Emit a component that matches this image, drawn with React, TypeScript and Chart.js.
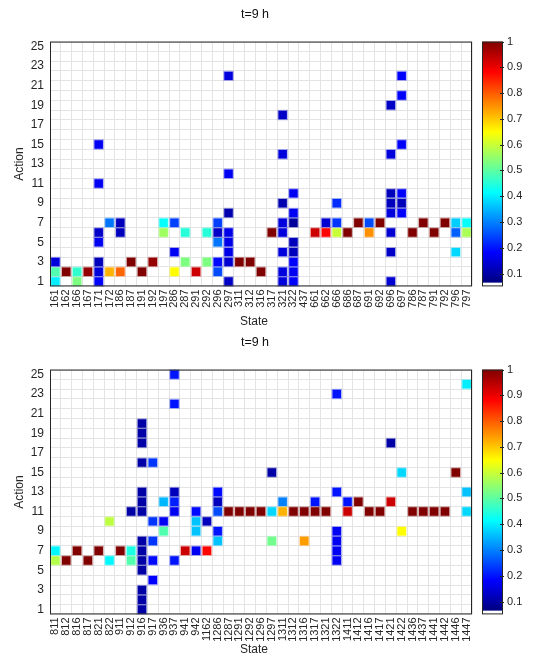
import React, { useEffect, useRef } from 'react';
import { Chart, registerables } from 'chart.js';

Chart.register(...registerables);

const FONT = "'Liberation Sans', Arial, Helvetica, sans-serif";
const TEXT = '#262626';

const chartTitle = 't=9 h';
const xAxisTitle = 'State';
const yAxisTitle = 'Action';

const actionLabels = ['25', '24', '23', '22', '21', '20', '19', '18', '17', '16', '15', '14', '13', '12', '11', '10', '9', '8', '7', '6', '5', '4', '3', '2', '1'];
const colorbarTicks = [0.1, 0.2, 0.3, 0.4, 0.5, 0.6, 0.7, 0.8, 0.9, 1];
const colorMin = 0.05;
const colorMax = 1;
const jetStart = colorMin + (colorMax - colorMin) / 65;

const topStates = ['161', '162', '166', '167', '171', '172', '186', '187', '191', '192', '197', '286', '287', '291', '292', '296', '297', '311', '312', '316', '317', '321', '322', '437', '661', '662', '666', '686', '687', '691', '692', '696', '697', '786', '787', '791', '792', '796', '797'];

// [state, action, probability]
const topCells: [string, number, number][] = [
  ['161', 1, 0.40], ['161', 2, 0.49], ['161', 3, 0.15],
  ['162', 2, 1.0],
  ['166', 1, 0.53], ['166', 2, 0.46],
  ['167', 2, 0.98],
  ['171', 1, 0.18], ['171', 2, 0.15], ['171', 3, 0.12], ['171', 5, 0.17], ['171', 6, 0.13], ['171', 11, 0.17], ['171', 15, 0.17],
  ['172', 2, 0.72], ['172', 7, 0.29],
  ['186', 2, 0.79], ['186', 6, 0.12], ['186', 7, 0.12],
  ['187', 3, 1.0],
  ['191', 2, 1.0],
  ['192', 3, 0.98],
  ['197', 6, 0.56], ['197', 7, 0.42],
  ['286', 2, 0.65], ['286', 4, 0.17], ['286', 7, 0.24],
  ['287', 3, 0.53], ['287', 6, 0.45],
  ['291', 2, 0.93],
  ['292', 3, 0.53], ['292', 6, 0.45],
  ['296', 2, 0.25], ['296', 3, 0.19], ['296', 5, 0.29], ['296', 6, 0.13], ['296', 7, 0.24],
  ['297', 1, 0.13], ['297', 3, 0.14], ['297', 4, 0.16], ['297', 5, 0.16], ['297', 6, 0.16], ['297', 8, 0.11], ['297', 12, 0.17], ['297', 22, 0.15],
  ['311', 3, 1.0],
  ['312', 3, 1.0],
  ['316', 2, 1.0],
  ['317', 6, 1.0],
  ['321', 1, 0.15], ['321', 2, 0.15], ['321', 4, 0.15], ['321', 6, 0.15], ['321', 7, 0.15], ['321', 9, 0.11], ['321', 14, 0.15], ['321', 18, 0.13],
  ['322', 1, 0.18], ['322', 2, 0.17], ['322', 3, 0.18], ['322', 4, 0.12], ['322', 5, 0.12], ['322', 7, 0.09], ['322', 8, 0.17], ['322', 10, 0.17],
  ['661', 6, 0.93],
  ['662', 6, 0.88], ['662', 7, 0.14],
  ['666', 6, 0.60], ['666', 7, 0.23], ['666', 9, 0.22],
  ['686', 6, 1.0],
  ['687', 7, 1.0],
  ['691', 6, 0.75], ['691', 7, 0.25],
  ['692', 7, 1.0],
  ['696', 1, 0.14], ['696', 4, 0.13], ['696', 6, 0.14], ['696', 8, 0.15], ['696', 9, 0.12], ['696', 10, 0.12], ['696', 14, 0.15], ['696', 19, 0.13],
  ['697', 8, 0.18], ['697', 9, 0.12], ['697', 10, 0.18], ['697', 15, 0.18], ['697', 20, 0.18], ['697', 22, 0.18],
  ['786', 6, 1.0],
  ['787', 7, 1.0],
  ['791', 6, 1.0],
  ['792', 7, 1.0],
  ['796', 4, 0.38], ['796', 6, 0.27], ['796', 7, 0.37],
  ['797', 6, 0.57], ['797', 7, 0.42],
];

const bottomStates = ['811', '812', '816', '817', '821', '822', '911', '912', '916', '917', '936', '937', '941', '942', '1162', '1286', '1287', '1291', '1292', '1296', '1297', '1311', '1312', '1316', '1317', '1321', '1322', '1411', '1412', '1416', '1417', '1421', '1422', '1436', '1437', '1441', '1442', '1446', '1447'];

const bottomCells: [string, number, number][] = [
  ['811', 6, 0.58], ['811', 7, 0.41],
  ['812', 6, 1.0],
  ['816', 7, 1.0],
  ['817', 6, 1.0],
  ['821', 7, 1.0],
  ['822', 6, 0.41], ['822', 10, 0.59],
  ['911', 7, 1.0],
  ['912', 6, 0.49], ['912', 7, 0.44], ['912', 11, 0.10],
  ['916', 1, 0.10], ['916', 2, 0.10], ['916', 3, 0.10], ['916', 5, 0.10], ['916', 6, 0.10], ['916', 7, 0.10], ['916', 8, 0.10],
  ['916', 11, 0.10], ['916', 12, 0.10], ['916', 13, 0.10], ['916', 16, 0.10], ['916', 18, 0.10], ['916', 19, 0.10], ['916', 20, 0.10],
  ['917', 4, 0.18], ['917', 6, 0.19], ['917', 8, 0.23], ['917', 10, 0.23], ['917', 16, 0.23],
  ['936', 9, 0.49], ['936', 10, 0.17], ['936', 12, 0.35],
  ['937', 6, 0.20], ['937', 11, 0.17], ['937', 12, 0.21], ['937', 13, 0.12], ['937', 22, 0.20], ['937', 25, 0.20],
  ['941', 7, 0.93],
  ['942', 7, 0.17], ['942', 9, 0.36], ['942', 10, 0.36], ['942', 11, 0.19],
  ['1162', 7, 0.88], ['1162', 10, 0.12],
  ['1286', 8, 0.36], ['1286', 9, 0.20], ['1286', 11, 0.25], ['1286', 12, 0.12], ['1286', 13, 0.19],
  ['1287', 11, 1.0],
  ['1291', 11, 1.0],
  ['1292', 11, 1.0],
  ['1296', 11, 1.0],
  ['1297', 15, 0.10], ['1297', 11, 0.38], ['1297', 8, 0.52],
  ['1311', 12, 0.30], ['1311', 11, 0.72],
  ['1312', 11, 1.0],
  ['1316', 11, 1.0], ['1316', 8, 0.74],
  ['1317', 12, 0.20], ['1317', 11, 1.0],
  ['1321', 11, 1.0],
  ['1322', 23, 0.20], ['1322', 13, 0.20], ['1322', 9, 0.17], ['1322', 8, 0.17], ['1322', 7, 0.17], ['1322', 6, 0.17],
  ['1411', 12, 0.20], ['1411', 11, 0.93],
  ['1412', 12, 1.0],
  ['1416', 11, 1.0],
  ['1417', 11, 1.0],
  ['1421', 18, 0.10], ['1421', 12, 0.93],
  ['1422', 15, 0.38], ['1422', 9, 0.65],
  ['1436', 11, 1.0],
  ['1437', 11, 1.0],
  ['1441', 11, 1.0],
  ['1442', 11, 1.0],
  ['1446', 15, 1.0],
  ['1447', 24, 0.40], ['1447', 13, 0.36], ['1447', 11, 0.38],
];

// ---- layout constants (pixels inside each 534x328 canvas) ----
const CW = 534;
const CH = 328;
const PLOT_LEFT = 50;
const PLOT_RIGHT = 472;
const PLOT_TOP = 24;
const PLOT_BOTTOM = 287;
const Y_AXIS_W = 30;
const X_AXIS_H = 36;

function clamp01(v: number) {
  return Math.min(1, Math.max(0, v));
}

function jetFrac(t: number, alpha = 1) {
  const r = clamp01(1.5 - Math.abs(4 * t - 3));
  const g = clamp01(1.5 - Math.abs(4 * t - 2));
  const b = clamp01(1.5 - Math.abs(4 * t - 1));
  return `rgba(${Math.round(r * 255)},${Math.round(g * 255)},${Math.round(b * 255)},${alpha})`;
}

function jetValue(v: number, alpha = 1) {
  const t = clamp01((v - jetStart) / (colorMax - jetStart));
  return jetFrac(t, alpha);
}

const decorPlugin = {
  id: 'decor',
  afterDraw(chart: any) {
    const { ctx, chartArea } = chart;
    const { left, right, top, bottom } = chartArea;
    ctx.save();

    // frame
    ctx.strokeStyle = '#262626';
    ctx.lineWidth = 1;
    ctx.strokeRect(left + 0.5, top + 0.5, right - left - 1, bottom - top - 1);

    // title
    ctx.fillStyle = '#111';
    ctx.font = `12.5px ${FONT}`;
    ctx.textAlign = 'center';
    ctx.textBaseline = 'middle';
    ctx.fillText(chartTitle, 255, 15);

    // x-axis title
    ctx.fillStyle = TEXT;
    ctx.font = `12px ${FONT}`;
    ctx.fillText(xAxisTitle, 254, 322);

    // y-axis title
    ctx.save();
    ctx.translate(20, (top + bottom) / 2);
    ctx.rotate(-Math.PI / 2);
    ctx.fillText(yAxisTitle, 0, 0);
    ctx.restore();

    // colorbar
    const cb = chart.scales.cb;
    const x0 = right + 10;
    const x1 = right + 31;
    const yTop = cb.getPixelForValue(colorMax);
    const yBot = cb.getPixelForValue(colorMin);
    const yJet = cb.getPixelForValue(jetStart);
    ctx.fillStyle = '#ffffff';
    ctx.fillRect(x0, yJet, x1 - x0, yBot - yJet);
    const grad = ctx.createLinearGradient(0, yJet, 0, yTop);
    for (let i = 0; i <= 64; i++) {
      grad.addColorStop(i / 64, jetFrac(i / 64));
    }
    ctx.fillStyle = grad;
    ctx.fillRect(x0, yTop, x1 - x0, yJet - yTop);
    ctx.strokeStyle = '#262626';
    ctx.strokeRect(x0 + 0.5, yTop + 0.5, x1 - x0 - 1, yBot - yTop - 1);
    ctx.beginPath();
    for (const t of cb.ticks) {
      const y = Math.round(cb.getPixelForValue(t.value)) + 0.5;
      ctx.moveTo(x1 - 3, y);
      ctx.lineTo(x1 + 1, y);
    }
    ctx.stroke();
    ctx.restore();
  },
};

function makeConfig(states: string[], cells: [string, number, number][]): any {
  return {
    type: 'scatter',
    data: {
      datasets: [
        {
          data: cells.map(([s, a]) => ({ x: s, y: String(a) })),
          pointStyle: 'rect',
          pointRadius: 6.0,
          pointHoverRadius: 6.0,
          pointBackgroundColor: cells.map((c) => jetValue(c[2], 1)),
          pointBorderColor: cells.map((c) => jetValue(c[2], 0.3)),
          pointBorderWidth: 2,
          pointHoverBorderWidth: 2,
        },
      ],
    },
    options: {
      animation: false,
      responsive: false,
      maintainAspectRatio: false,
      events: [],
      layout: {
        padding: {
          left: PLOT_LEFT - Y_AXIS_W,
          right: 0,
          top: PLOT_TOP,
          bottom: CH - PLOT_BOTTOM - X_AXIS_H,
        },
      },
      plugins: {
        legend: { display: false },
        tooltip: { enabled: false },
        title: { display: false },
      },
      scales: {
        x: {
          type: 'category',
          labels: states,
          offset: true,
          position: 'bottom',
          grid: { offset: true, color: '#e4e4e4', lineWidth: 1, drawTicks: false },
          border: { display: false },
          ticks: {
            autoSkip: false,
            minRotation: 90,
            maxRotation: 90,
            padding: 3,
            color: TEXT,
            font: { family: FONT, size: 11 },
          },
          afterFit: (s: any) => {
            s.height = X_AXIS_H;
          },
        },
        y: {
          type: 'category',
          labels: actionLabels,
          offset: true,
          position: 'left',
          grid: { offset: true, color: '#e4e4e4', lineWidth: 1, drawTicks: false },
          border: { display: false },
          ticks: {
            autoSkip: false,
            padding: 6,
            color: TEXT,
            font: { family: FONT, size: 12 },
            callback: function (this: any, value: any) {
              const l = this.getLabelForValue(value);
              return Number(l) % 2 === 1 ? l : '';
            },
          },
          afterFit: (s: any) => {
            s.width = Y_AXIS_W;
          },
        },
        cb: {
          type: 'linear',
          position: 'right',
          min: colorMin,
          max: colorMax,
          grid: { display: false, drawTicks: false },
          border: { display: false },
          afterBuildTicks: (s: any) => {
            s.ticks = colorbarTicks.map((v) => ({ value: v }));
          },
          ticks: {
            padding: 35,
            color: TEXT,
            font: { family: FONT, size: 11 },
            callback: (v: any) => (Number(v) === 1 ? '1' : Number(v).toFixed(1)),
          },
          afterFit: (s: any) => {
            s.width = CW - PLOT_RIGHT;
          },
        },
      },
    },
    plugins: [decorPlugin],
  };
}

function Heatmap({ states, cells, top }: { states: string[]; cells: [string, number, number][]; top: number }) {
  const ref = useRef<HTMLCanvasElement | null>(null);
  useEffect(() => {
    if (!ref.current) return;
    const chart = new Chart(ref.current, makeConfig(states, cells));
    return () => chart.destroy();
  }, [states, cells]);
  return (
    <canvas
      ref={ref}
      width={CW}
      height={CH}
      style={{ position: 'absolute', left: 0, top, width: CW, height: CH }}
    />
  );
}

export default function App() {
  return (
    <div style={{ position: 'absolute', left: 0, top: 0, width: 534, height: 656, background: '#ffffff' }}>
      <Heatmap states={topStates} cells={topCells} top={0} />
      <Heatmap states={bottomStates} cells={bottomCells} top={328} />
    </div>
  );
}
